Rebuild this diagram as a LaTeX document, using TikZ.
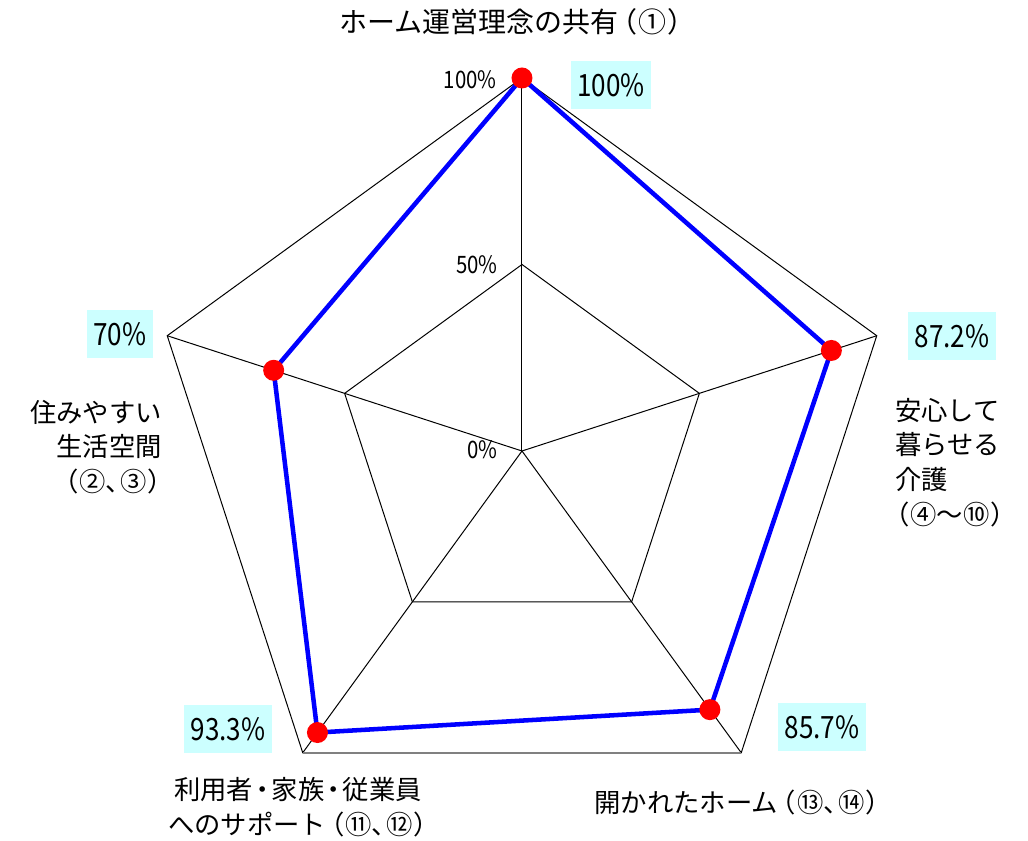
\documentclass[tikz,border=0pt]{standalone}
\usepackage{fontspec}
\setmainfont{Noto Sans CJK JP}
\newfontfamily\numfont[FakeStretch=0.85]{Noto Sans CJK JP}
\newfontfamily\pfont[RawFeature=+palt]{Noto Sans CJK JP}
\newcommand\jlp{\kern3pt{\pfont （}\kern1.5pt}
\newcommand\jrp{\kern1.5pt{\pfont ）}}
\newcommand\jcm{{\pfont 、}\kern1pt}
\newcommand\jdot{\kern2pt{\pfont ・}\kern2pt}
\definecolor{valcyan}{RGB}{204,255,255}
\begin{document}
\begin{tikzpicture}[x=0.75pt, y=0.75pt,
  valbox/.style={fill=valcyan, inner xsep=4.9pt, inner ysep=0pt, minimum height=36pt,
    font=\numfont\fontsize{23}{23}\selectfont},
  axlabel/.style={anchor=east, inner sep=0pt, font=\numfont\fontsize{18}{18}\selectfont},
  catlabel/.style={inner sep=0pt, font=\fontsize{19.75}{26}\selectfont},
  dot/.style={circle, fill=red, inner sep=0pt, minimum size=15.75pt},
  datline/.style={blue, line width=3.4pt}]
  \useasboundingbox (-522,-390) rectangle (506,451);
  % grid
  \coordinate (O) at (0,0);
  \coordinate (A1) at (90:373);
  \coordinate (A2) at (18:373);
  \coordinate (A3) at (-54:373);
  \coordinate (A4) at (-126:373);
  \coordinate (A5) at (162:373);
  \coordinate (B1) at (90:186.5);
  \coordinate (B2) at (18:186.5);
  \coordinate (B3) at (-54:186.5);
  \coordinate (B4) at (-126:186.5);
  \coordinate (B5) at (162:186.5);
  \draw[line width=0.75pt] (A1)--(A2)--(A3)--(A4)--(A5)--cycle;
  \draw[line width=0.75pt] (B1)--(B2)--(B3)--(B4)--(B5)--cycle;
  \draw[line width=0.75pt] (O)--(A1);
  \draw[line width=0.75pt] (O)--(A2);
  \draw[line width=0.75pt] (O)--(A3);
  \draw[line width=0.75pt] (O)--(A4);
  \draw[line width=0.75pt] (O)--(A5);
  \draw[gray, line width=1.5pt] (A3)--(A4);
  % data
  \coordinate (P1) at (90:373);
  \coordinate (P2) at (18:325.3);
  \coordinate (P3) at (-54:319.7);
  \coordinate (P4) at (-126:348);
  \coordinate (P5) at (162:261.1);
  \draw[datline] (P1)--(P2)--(P3)--(P4)--(P5)--cycle;
  \node[dot] (D1) at (P1) {};
  \node[dot] (D2) at (P2) {};
  \node[dot] (D3) at (P3) {};
  \node[dot] (D4) at (P4) {};
  \node[dot] (D5) at (P5) {};
  % scale
  \node[axlabel] (s100) at (-25,371) {100\%};
  \node[axlabel] (s50) at (-24,186) {50\%};
  \node[axlabel] (s0) at (-24,1) {0\%};
  % values
  \node[valbox] (v1) at (89,366) {100\%};
  \node[valbox] (v2) at (430,115) {87.2\%};
  \node[valbox] (v3) at (300,-276) {85.7\%};
  \node[valbox] (v4) at (-294,-278) {93.3\%};
  \node[valbox] (v5) at (-402,117) {70\%};
  % categories
  \node[catlabel, font=\fontsize{21}{26}\selectfont] (c1) at (-11,429)
    {ホーム運営理念の共有\jlp ①\jrp};
  \node[catlabel, anchor=west, align=left] (c2) at (373,-11.5)
    {安心して\\暮らせる\\介護\\{\pfont （}\kern1.5pt ④～⑩\jrp};
  \node[catlabel, align=center] (c3) at (215,-351) {開かれたホーム\jlp ⑬\jcm ⑭\jrp};
  \node[catlabel, align=center] (c4) at (-224,-356.5)
    {利用者\jdot 家族\jdot 従業員\\へのサポート\jlp ⑪\jcm ⑫\jrp};
  \node[catlabel, anchor=east, align=right] (c5) at (-360,4)
    {住みやすい\\生活空間\\\jlp ②\jcm ③\jrp};
\end{tikzpicture}
\end{document}
